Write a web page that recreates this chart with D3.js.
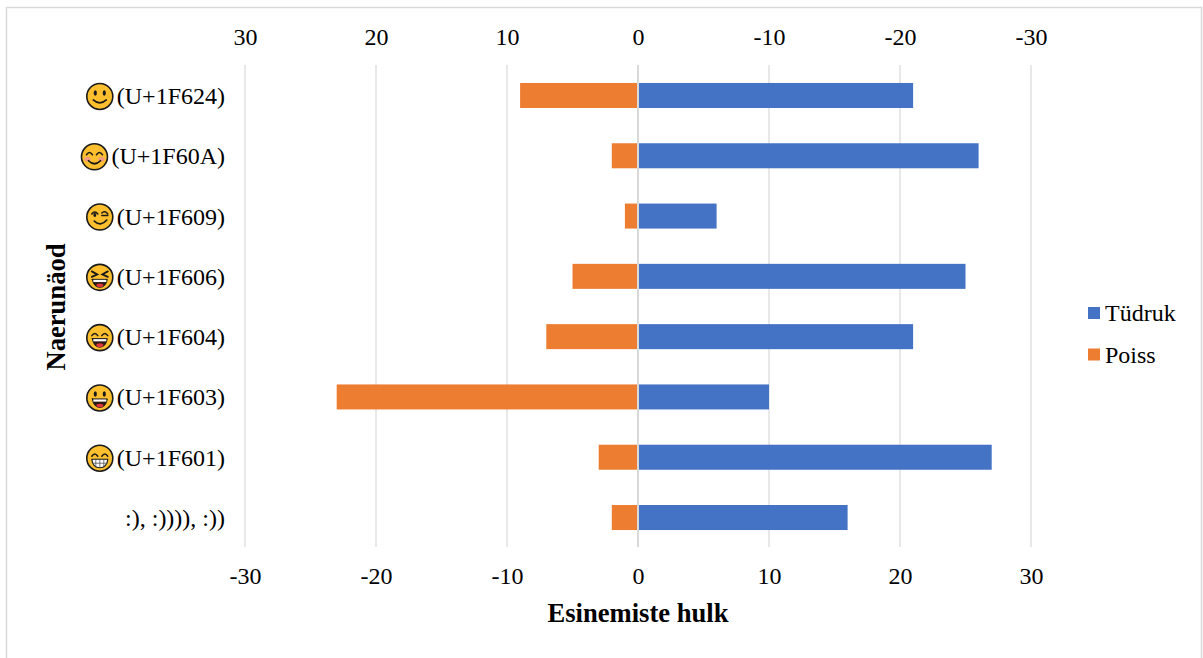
<!DOCTYPE html>
<html><head><meta charset="utf-8">
<script src="https://cdn.jsdelivr.net/npm/d3@7"></script>
<style>
html,body{margin:0;padding:0;background:#fff;overflow:hidden}
text{font-family:"Liberation Serif",serif;fill:#000}
</style></head><body><svg id="c" width="1203" height="658"></svg>
<script>
const categories=["(U+1F624)","(U+1F60A)","(U+1F609)","(U+1F606)","(U+1F604)","(U+1F603)","(U+1F601)",":), :)))), :))"];
const emojiKinds=["smile","blush","wink","squint","grin","open","teeth",null];
const girls=[21,26,6,25,21,10,27,16];
const boys=[-9,-2,-1,-5,-7,-23,-3,-2];
const xTicks=[-30,-20,-10,0,10,20,30];
const seriesNames=["Tüdruk","Poiss"];
const colors=["#4472c4","#ed7d31"];
const yTitle="Naerunäod", xTitle="Esinemiste hulk";

const svg=d3.select("#c");
svg.append("rect").attr("x",6.5).attr("y",7.5).attr("width",1195).attr("height",660)
  .attr("fill","#fff").attr("stroke","#d9d9d9").attr("stroke-width",1.5);

const x=d3.scaleLinear().domain([-30,30]).range([245,1031]);
const xTop=d3.scaleLinear().domain([30,-30]).range([245,1031]);
const y=d3.scaleBand().domain(categories).range([65.3,547.7]).paddingInner(0.585).paddingOuter(0.293);

svg.append("g").selectAll("line").data(xTicks.filter(d=>d!==0)).join("line")
  .attr("x1",d=>x(d)).attr("x2",d=>x(d)).attr("y1",65).attr("y2",547)
  .attr("stroke","#e8e8e8").attr("stroke-width",2);

const fmt=d=>String(d);
const gb=svg.append("g").attr("transform","translate(0,584)")
  .call(d3.axisBottom(x).tickValues(xTicks).tickSize(0).tickPadding(0).tickFormat(fmt));
const gt=svg.append("g").attr("transform","translate(0,45)")
  .call(d3.axisTop(xTop).tickValues(xTicks).tickSize(0).tickPadding(0).tickFormat(fmt));
[gb,gt].forEach(g=>{g.select(".domain").remove();
  g.selectAll("text").attr("font-family","Liberation Serif").attr("font-size",24).attr("fill","#000").attr("y",0).attr("dy",0);});

svg.append("g").selectAll("rect").data(boys).join("rect")
  .attr("x",d=>x(d)).attr("width",d=>x(0)-x(d))
  .attr("y",(d,i)=>y(categories[i])).attr("height",y.bandwidth()).attr("fill",colors[1]);
svg.append("g").selectAll("rect").data(girls).join("rect")
  .attr("x",x(0)).attr("width",d=>x(d)-x(0))
  .attr("y",(d,i)=>y(categories[i])).attr("height",y.bandwidth()).attr("fill",colors[0]);
svg.append("line").attr("x1",x(0)).attr("x2",x(0)).attr("y1",65).attr("y2",547)
  .attr("stroke","#d9d9d9").attr("stroke-width",2);

const labelG=svg.append("g");
const labels=labelG.selectAll("text").data(categories).join("text")
  .attr("x",225).attr("y",d=>y(d)+y.bandwidth()/2+8.5).attr("text-anchor","end")
  .attr("font-size",24).text(d=>d);

function face(g,kind){
  const ink="#1a1a1a";
  g.append("circle").attr("r",13).attr("fill","#fdbf2d").attr("stroke",ink).attr("stroke-width",1.6);
  const p=(d,o={})=>g.append("path").attr("d",d).attr("fill",o.fill||"none").attr("stroke",o.stroke||ink)
    .attr("stroke-width",o.w||1.5).attr("stroke-linecap","round");
  const dot=(cx,cy,rx=1.6,ry=2.8)=>g.append("ellipse").attr("cx",cx).attr("cy",cy).attr("rx",rx).attr("ry",ry).attr("fill",ink);
  const arcs=()=>{p("M-8,-2 Q-5,-6.5 -2,-2");p("M2,-2 Q5,-6.5 8,-2");};
  const open=(top,bot)=>{p(`M-7.5,${top} H7.5 Q6,${bot} 0,${bot} Q-6,${bot} -7.5,${top} Z`,{fill:"#2b1a12",w:1});
    g.append("rect").attr("x",-6.5).attr("y",top+.5).attr("width",13).attr("height",2.2).attr("fill","#fff");
    g.append("ellipse").attr("cx",0).attr("cy",bot-2).attr("rx",3.5).attr("ry",1.8).attr("fill","#e0343c");};
  if(kind==="smile"){dot(-4.5,-3.5);dot(4.5,-3.5);p("M-6.5,3.5 Q0,9.5 6.5,3.5",{w:1.7});}
  if(kind==="blush"){
    g.append("ellipse").attr("cx",-7).attr("cy",2.5).attr("rx",3.2).attr("ry",2.2).attr("fill","#f59a83");
    g.append("ellipse").attr("cx",7).attr("cy",2.5).attr("rx",3.2).attr("ry",2.2).attr("fill","#f59a83");
    arcs();p("M-6,4 Q0,10 6,4",{w:1.7});}
  if(kind==="wink"){p("M-8,-3 Q-5,-7 -2,-3");dot(-5,-2,1.5,2);p("M2,-4 Q5,-7 8,-3");p("M2,-1.5 H8");p("M-5.5,4 Q1,10 7,3",{w:1.7});}
  if(kind==="squint"){p("M-8,-6 L-2.5,-3 L-8,-0.5",{w:1.8});p("M8,-6 L2.5,-3 L8,-0.5",{w:1.8});open(2,10);}
  if(kind==="grin"){arcs();open(1,9.5);}
  if(kind==="open"){dot(-4.5,-4);dot(4.5,-4);open(1,9.5);}
  if(kind==="teeth"){arcs();
    p("M-8,1 H8 Q7,9.5 0,9.5 Q-7,9.5 -8,1 Z",{fill:"#fff",w:1.2});
    p("M-7.5,5 H7.5 M-4,1 V9 M0,1 V9.5 M4,1 V9",{w:.8,stroke:"#555"});}
}
labels.each(function(d,i){
  if(!emojiKinds[i])return;
  const left=this.getComputedTextLength();
  const g=labelG.append("g").attr("transform",`translate(${225-left-17},${y(d)+y.bandwidth()/2+1})`);
  face(g,emojiKinds[i]);
});

svg.append("text").attr("transform","translate(65,307) rotate(-90)").attr("text-anchor","middle")
  .attr("font-size",26.6).attr("font-weight","bold").text(yTitle);
svg.append("text").attr("x",638).attr("y",622).attr("text-anchor","middle")
  .attr("font-size",26.6).attr("font-weight","bold").text(xTitle);

const lg=svg.append("g").selectAll("g").data(seriesNames).join("g")
  .attr("transform",(d,i)=>`translate(1088,${307+i*41.5})`);
lg.append("rect").attr("width",12).attr("height",12).attr("fill",(d,i)=>colors[i]);
lg.append("text").attr("x",17).attr("y",14).attr("font-size",24).text(d=>d);
</script></body></html>
